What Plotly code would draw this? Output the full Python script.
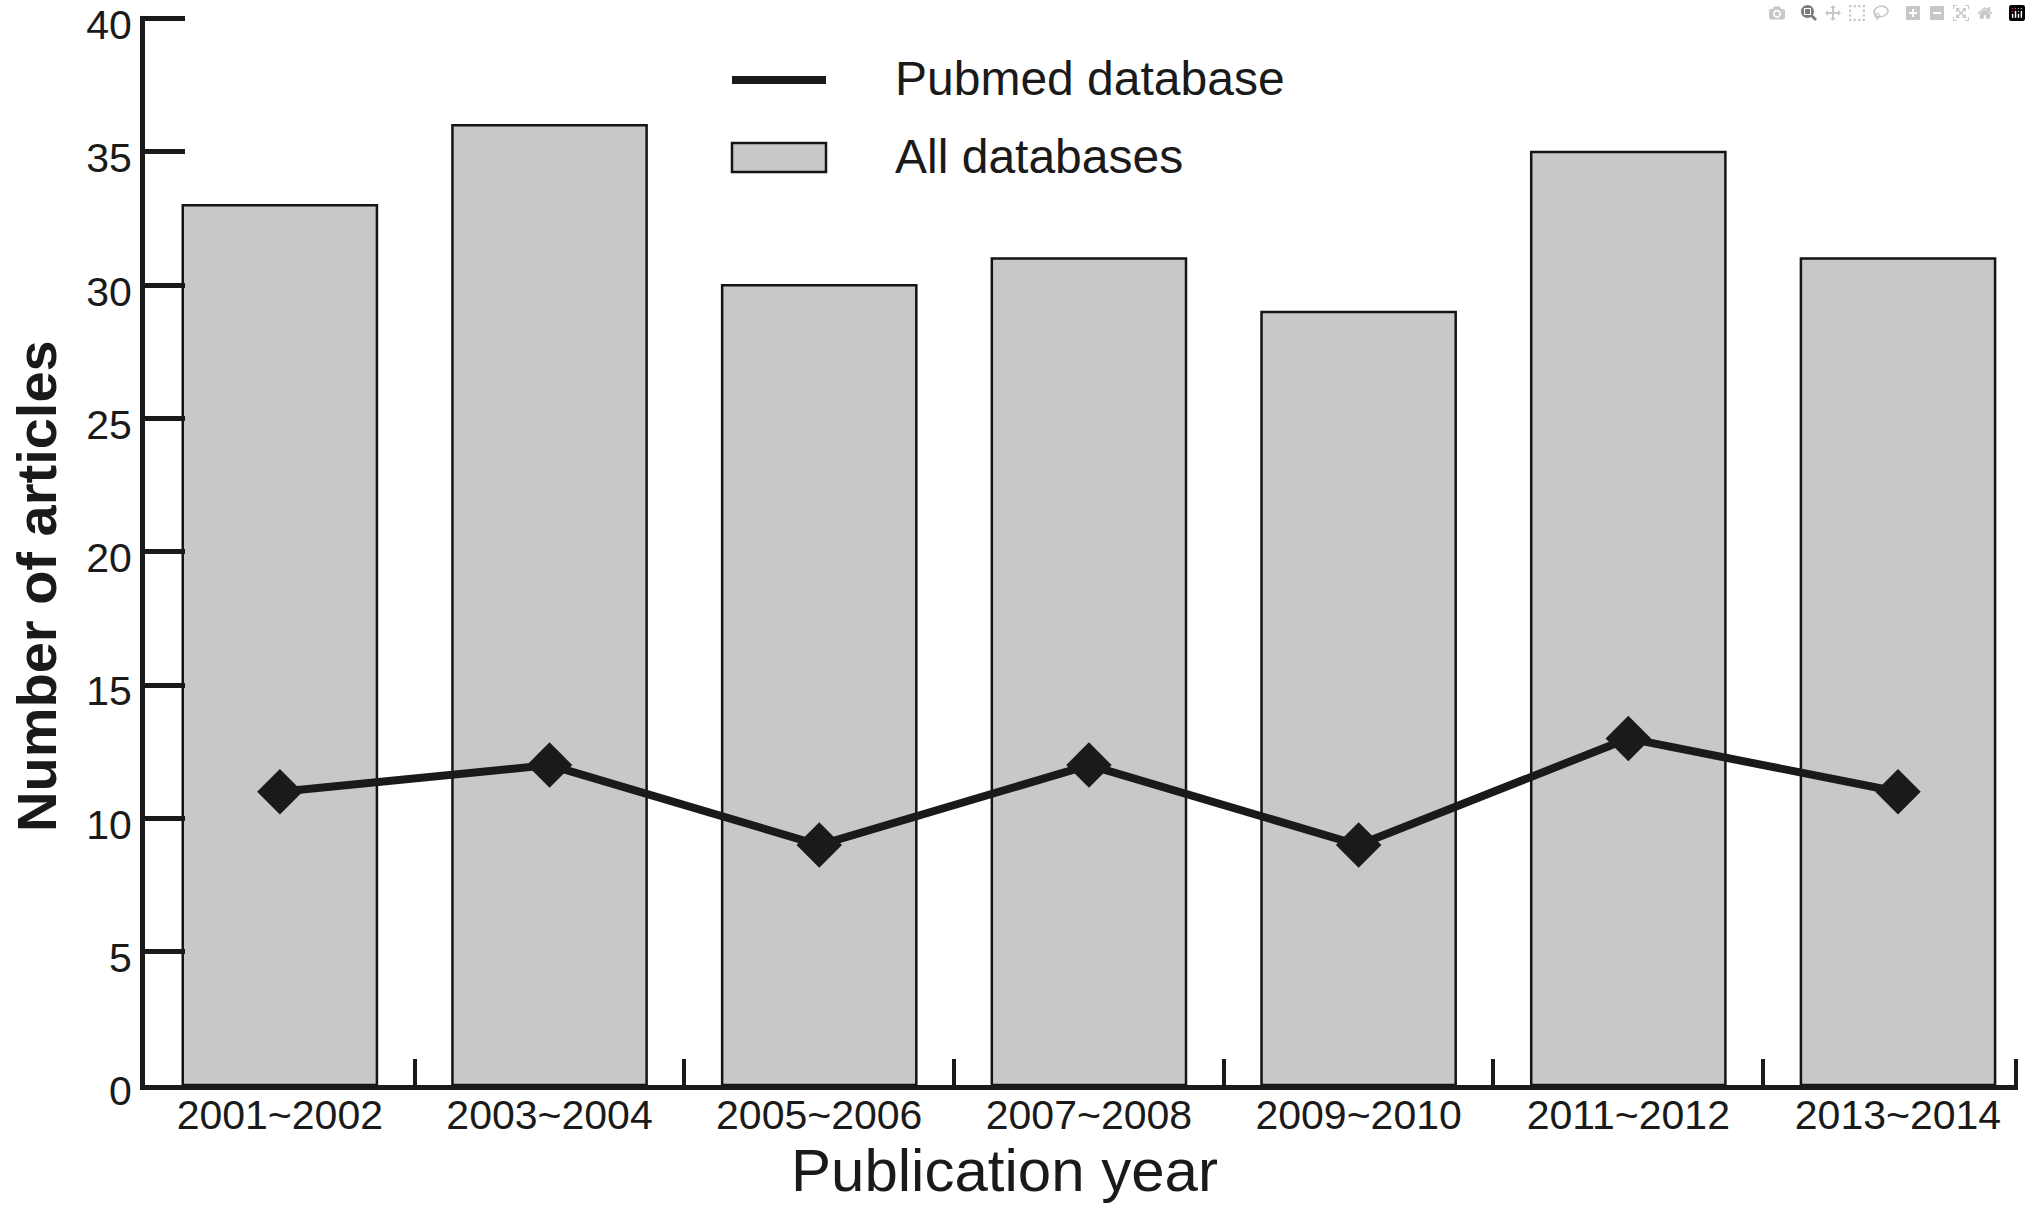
import plotly.graph_objects as go

categories = ["2001~2002", "2003~2004", "2005~2006", "2007~2008", "2009~2010", "2011~2012", "2013~2014"]
all_databases = [33, 36, 30, 31, 29, 35, 31]
pubmed_database = [11, 12, 9, 12, 9, 13, 11]
y_ticks = [0, 5, 10, 15, 20, 25, 30, 35, 40]

# layout constants
W, H = 2031, 1205
X_END = 6.436            # where the x axis (and its last tick) stops
X_MAX = 6.445
Y_MAX = 40.1
L, R, T, B = 145, 13, 16, 120
PX0, PX1 = L, W - R
PY0, PY1 = T, H - B

FONT = "Liberation Sans, Arial, Helvetica, sans-serif"
INK = "#1a1a1a"
GREY = "#c8c8c8"

x_pos = list(range(len(categories)))
boundaries = [i + 0.5 for i in x_pos[:-1]] + [X_END]


def px(x):
    return (x - PX0) / (PX1 - PX0)


def py(y):
    return (PY1 - y) / (PY1 - PY0)


fig = go.Figure()
fig.add_trace(go.Bar(
    x=x_pos, y=all_databases, name="All databases",
    customdata=categories,
    marker=dict(color=GREY, line=dict(color="#141414", width=2.5)),
    showlegend=False,
))
fig.add_trace(go.Scatter(
    x=x_pos, y=pubmed_database, name="Pubmed database",
    customdata=categories,
    mode="lines+markers",
    line=dict(color=INK, width=8),
    marker=dict(symbol="diamond", size=35, color=INK),
    showlegend=False,
))

shapes = [
    dict(type="line", xref="paper", yref="paper",
         x0=px(732), x1=px(826), y0=py(80), y1=py(80),
         line=dict(color=INK, width=8)),
    dict(type="rect", xref="paper", yref="paper",
         x0=px(732), x1=px(826), y0=py(143), y1=py(172),
         fillcolor=GREY, line=dict(color="#141414", width=2.5)),
]

annotations = [
    dict(text="Pubmed database", xref="paper", yref="paper", x=px(893), y=py(78),
         xanchor="left", yanchor="middle", showarrow=False,
         font=dict(family=FONT, size=48, color=INK)),
    dict(text="All databases", xref="paper", yref="paper", x=px(893), y=py(156),
         xanchor="left", yanchor="middle", showarrow=False,
         font=dict(family=FONT, size=48, color=INK)),
    dict(text="Publication year", xref="paper", yref="paper", x=px(1004), y=py(1170),
         xanchor="center", yanchor="middle", showarrow=False,
         font=dict(family=FONT, size=60, color=INK)),
    dict(text="<b>Number of articles</b>", xref="paper", yref="paper", x=px(36), y=py(586),
         xanchor="center", yanchor="middle", showarrow=False, textangle=-90,
         font=dict(family=FONT, size=56, color=INK)),
]

fig.update_layout(
    width=W, height=H,
    margin=dict(l=L, r=R, t=T, b=B, pad=0, autoexpand=False),
    paper_bgcolor="white", plot_bgcolor="rgba(0,0,0,0)",
    bargap=0.28,
    showlegend=False,
    shapes=shapes,
    annotations=annotations,
    font=dict(family=FONT, color=INK),
    xaxis=dict(
        range=[-0.5, X_MAX], automargin=False,
        tickmode="array", tickvals=x_pos, ticktext=categories,
        ticks="", ticklabelstandoff=-10, ticklabeloverflow="allow",
        showline=True, linewidth=5, linecolor=INK,
        minor=dict(tickmode="array", tickvals=boundaries, ticks="inside",
                   ticklen=26, tickwidth=4, tickcolor=INK, showgrid=False),
        tickfont=dict(family=FONT, size=41, color=INK),
        showgrid=False, zeroline=False, layer="below traces",
    ),
    yaxis=dict(
        range=[0, Y_MAX], automargin=False,
        tickmode="array", tickvals=y_ticks,
        showline=True, linewidth=5, linecolor=INK,
        ticks="inside", ticklen=40, tickwidth=5, tickcolor=INK,
        ticklabeloverflow="allow", ticklabelshift=6,
        tickfont=dict(family=FONT, size=41, color=INK),
        showgrid=False, zeroline=False, layer="above traces",
    ),
)

fig.write_html("out.html", post_script="document.body.style.margin='0';")
